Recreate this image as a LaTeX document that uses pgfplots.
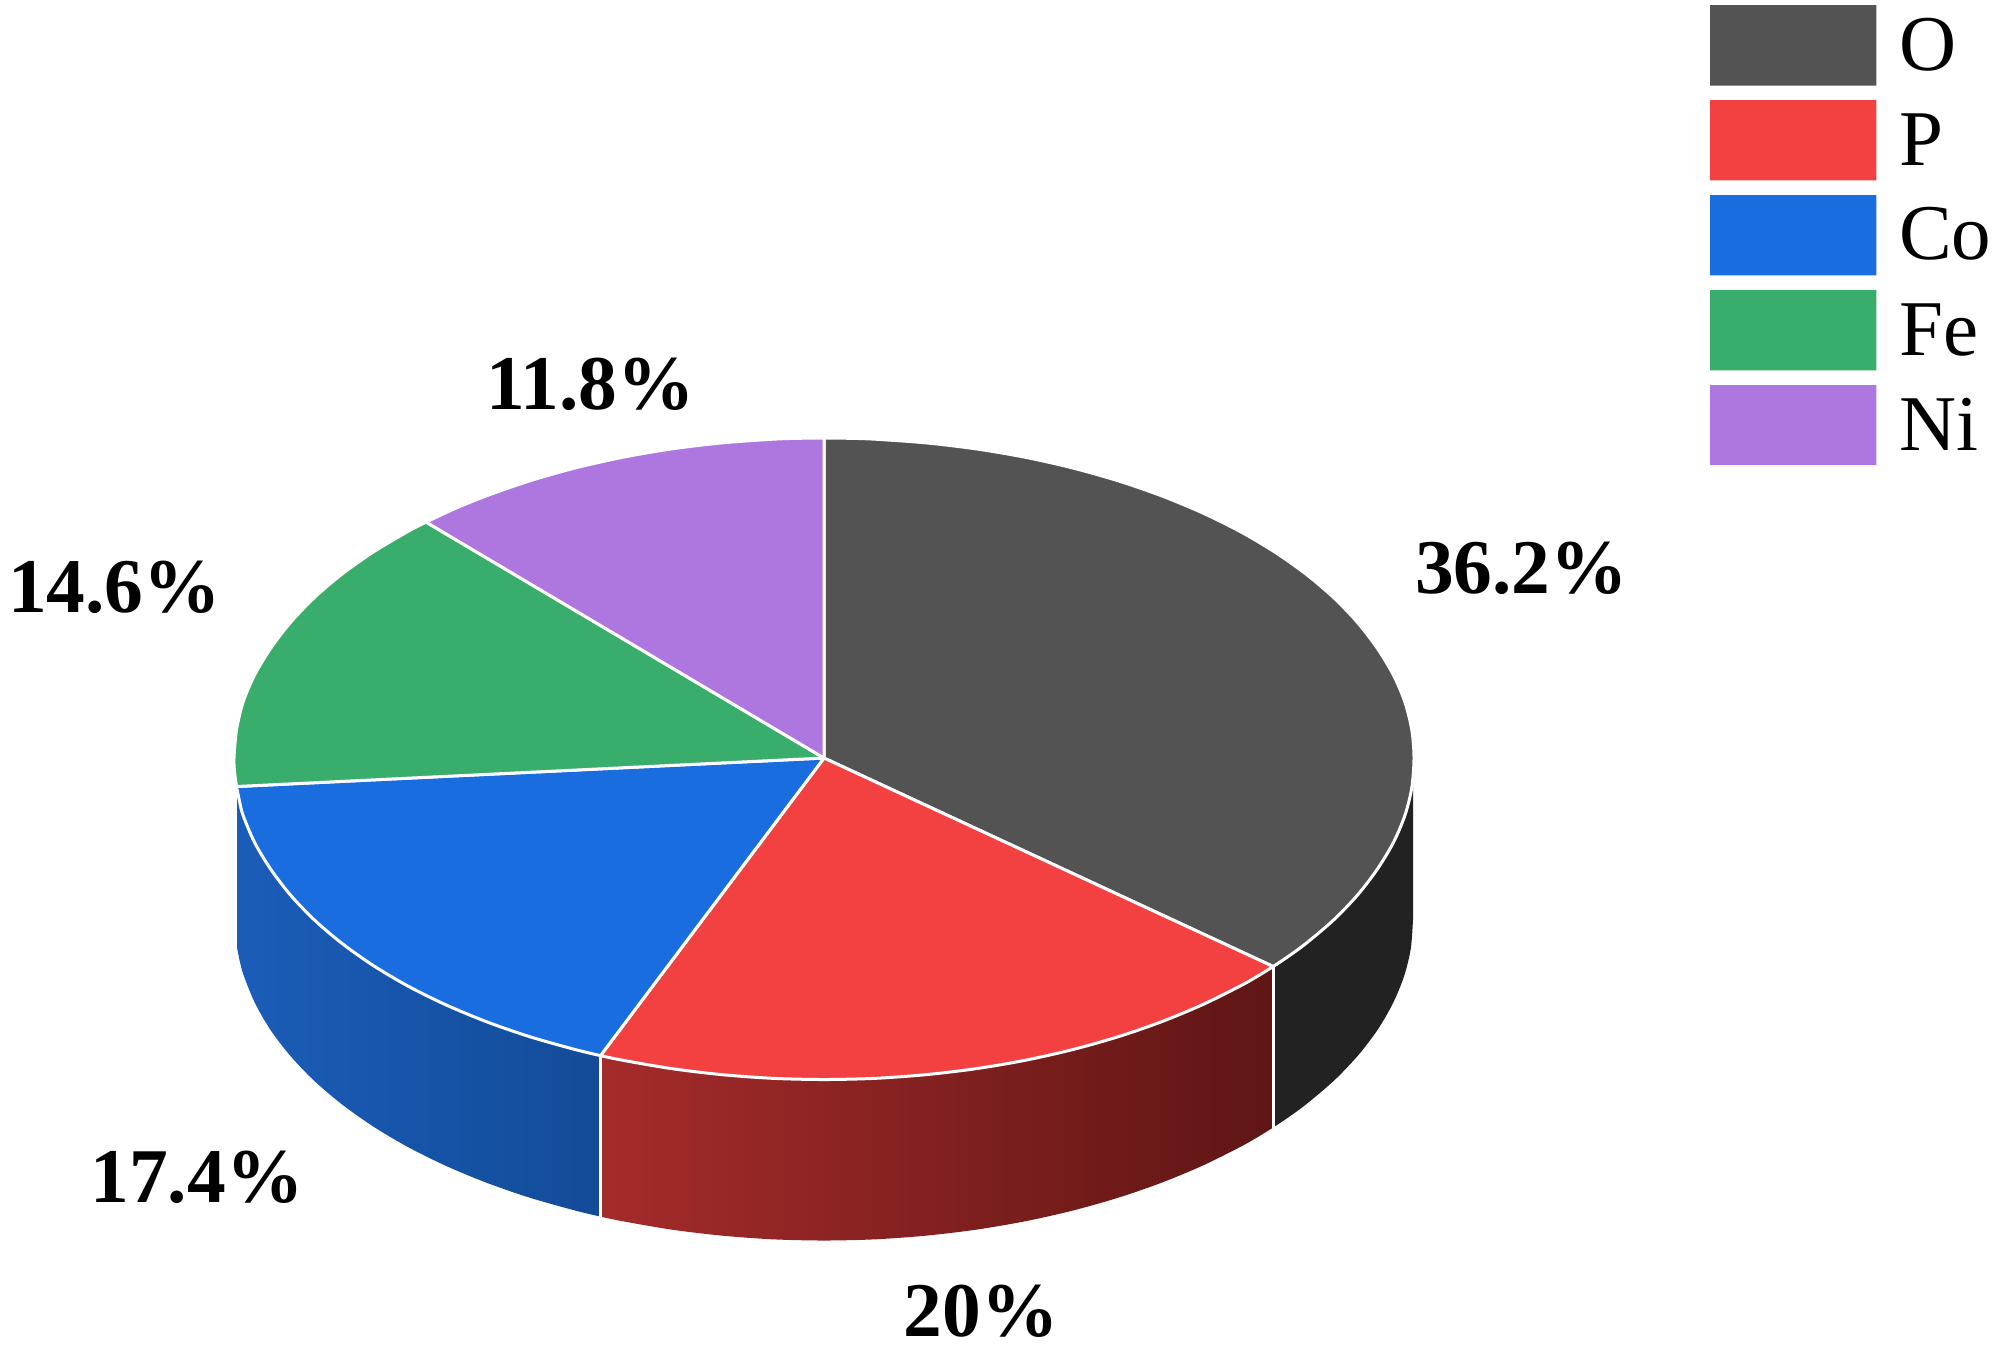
\documentclass[border=0pt]{standalone}
\usepackage{fontspec}
\setmainfont{Liberation Serif}
\usepackage{pgfplots}
\pgfplotsset{compat=1.18}
\definecolor{cO}{HTML}{535353}
\definecolor{cP}{HTML}{F34141}
\definecolor{cCo}{HTML}{1A6DDF}
\definecolor{cFe}{HTML}{39AD6B}
\definecolor{cNi}{HTML}{AE76DF}
\definecolor{sideO}{HTML}{222222}
\definecolor{sideP1}{HTML}{A52B2B}
\definecolor{sideP2}{HTML}{7F1E1E}
\definecolor{sideP3}{HTML}{5E1614}
\definecolor{sideCo1}{HTML}{1A5DB8}
\definecolor{sideCo2}{HTML}{134B98}
\newcommand{\lab}{\fontsize{38.7}{40}\selectfont\bfseries}
\newcommand{\leg}{\fontsize{39.5}{40}\selectfont}
\begin{document}
\begin{tikzpicture}
\path[use as bounding box] (0,0) rectangle (1000pt,683.5pt);
\begin{axis}[hide axis, clip=false, scale only axis, width=1000pt, height=683.5pt,
  anchor=south west, at={(0,0)},
  xmin=0, xmax=2000, ymin=0, ymax=1367, y dir=reverse,
  wedge/.style={smooth, fill=#1, draw=white, line width=1.5pt, line join=round},
  box/.style={fill=#1, draw=none},
  every node/.style={inner sep=0pt, text=black}]

% side walls (36.2, 20, 17.4 %), only the lower rim shows, the top face covers the rest
\addplot[smooth, fill=sideO, draw=none] coordinates {(1273.2,1127.5) (1288.1,1117.5) (1306.5,1104) (1334.1,1080.5) (1357.8,1055.7) (1377.5,1029.9) (1392.9,1003.3) (1404.1,976.1) (1410.8,948.4) (1413,919)} -- (axis cs:1413,758) -- (axis cs:1273.2,966.5) -- cycle;
\addplot[smooth, left color=sideP1, middle color=sideP2, right color=sideP3, draw=none] coordinates {(600.5,1216.6) (622.5,1221.2) (671.6,1229.6) (721.7,1235.6) (772.7,1239.3) (824,1240.5) (875.3,1239.3) (926.3,1235.6) (976.4,1229.6) (1025.5,1221.2) (1072.9,1210.5) (1118.5,1197.6) (1161.8,1182.6) (1202.6,1165.6) (1240.5,1146.8) (1258.3,1136.7) (1273.2,1127.5)} -- (axis cs:1273.2,966.5) -- (axis cs:600.5,1055.6) -- cycle;
\addplot[smooth, left color=sideCo1, right color=sideCo2, draw=none] coordinates {(237.2,948.5) (240,962.3) (243.9,976.1) (255.1,1003.3) (270.5,1029.9) (290.2,1055.7) (313.9,1080.5) (341.5,1104) (372.8,1126.2) (407.5,1146.8) (445.4,1165.6) (486.2,1182.6) (529.5,1197.6) (575.1,1210.5) (600.5,1216.6)} -- (axis cs:600.5,1055.6) -- (axis cs:237.2,787.5) -- cycle;
\addplot[white, line width=1.5pt] coordinates {(1273.2,966.5) (1273.2,1127.5)};
\addplot[white, line width=1.5pt] coordinates {(600.5,1055.6) (600.5,1216.6)};

% top face
\addplot[wedge=cO] coordinates {(824,438) (849.7,438.3) (875.3,439.2) (926.3,442.9) (976.4,448.9) (1025.5,457.3) (1072.9,468) (1118.5,480.9) (1161.8,495.9) (1202.6,512.9) (1240.5,531.7) (1275.2,552.3) (1306.5,574.5) (1334.1,598) (1357.8,622.8) (1377.5,648.6) (1393.5,675.2) (1405,702.4) (1411.8,730.1) (1414,758) (1411.8,787.4) (1405,815.1) (1393.5,842.3) (1377.5,868.9) (1357.8,894.7) (1334.1,919.5) (1306.5,943) (1288.1,956.5) (1273.2,966.5)} -- (axis cs:824,758) -- cycle;
\addplot[wedge=cP] coordinates {(1273.2,966.5) (1258.3,975.7) (1240.5,985.8) (1202.6,1004.6) (1161.8,1021.6) (1118.5,1036.6) (1072.9,1049.5) (1025.5,1060.2) (976.4,1068.6) (926.3,1074.6) (875.3,1078.3) (824,1079.5) (772.7,1078.3) (721.7,1074.6) (671.6,1068.6) (622.5,1060.2) (600.5,1055.6)} -- (axis cs:824,758) -- cycle;
\addplot[wedge=cCo] coordinates {(600.5,1055.6) (575.1,1049.5) (529.5,1036.6) (486.2,1021.6) (445.4,1004.6) (407.5,985.8) (372.8,965.2) (341.5,943) (313.9,919.5) (290.2,894.7) (270.5,868.9) (254.5,842.3) (243,815.1) (239.5,801.3) (236.5,786.5)} -- (axis cs:824,758) -- cycle;
\addplot[wedge=cFe] coordinates {(236.5,786.5) (234.6,772.5) (234,758) (236.5,730.1) (243,702.4) (254.5,675.2) (270.5,648.6) (290.2,622.8) (313.9,598) (341.5,574.5) (372.8,552.3) (407.5,531.7) (426.1,522.1)} -- (axis cs:824,758) -- cycle;
\addplot[wedge=cNi] coordinates {(426.1,522.1) (453.3,509.3) (486.2,495.9) (529.5,480.9) (575.1,468) (622.5,457.3) (671.6,448.9) (721.7,442.9) (772.7,439.2) (798.3,438.3) (824,438)} -- (axis cs:824,758) -- cycle;

% legend boxes
\addplot[box=cO] coordinates {(1710,5) (1876.3,5) (1876.3,85.7) (1710,85.7) (1710,5)};
\addplot[box=cP] coordinates {(1710,100) (1876.3,100) (1876.3,180.3) (1710,180.3) (1710,100)};
\addplot[box=cCo] coordinates {(1710,195) (1876.3,195) (1876.3,275.3) (1710,275.3) (1710,195)};
\addplot[box=cFe] coordinates {(1710,290) (1876.3,290) (1876.3,370.3) (1710,370.3) (1710,290)};
\addplot[box=cNi] coordinates {(1710,385) (1876.3,385) (1876.3,465) (1710,465) (1710,385)};

\node[anchor=base west] at (axis cs:1892,70) {\leg O};
\node[anchor=base west] at (axis cs:1892,165) {\leg P};
\node[anchor=base west] at (axis cs:1892,259) {\leg Co};
\node[anchor=base west] at (axis cs:1892,355) {\leg Fe};
\node[anchor=base west] at (axis cs:1892,450) {\leg Ni};

% percent labels
\node[anchor=base] at (axis cs:1521.5,593) {\lab 36.2\%};
\node[anchor=base] at (axis cs:114.5,612) {\lab 14.6\%};
\node[anchor=base] at (axis cs:590.5,409) {\lab 11.8\%};
\node[anchor=base] at (axis cs:197,1202) {\lab 17.4\%};
\node[anchor=base] at (axis cs:981,1336) {\lab 20\%};
\end{axis}
\end{tikzpicture}
\end{document}
